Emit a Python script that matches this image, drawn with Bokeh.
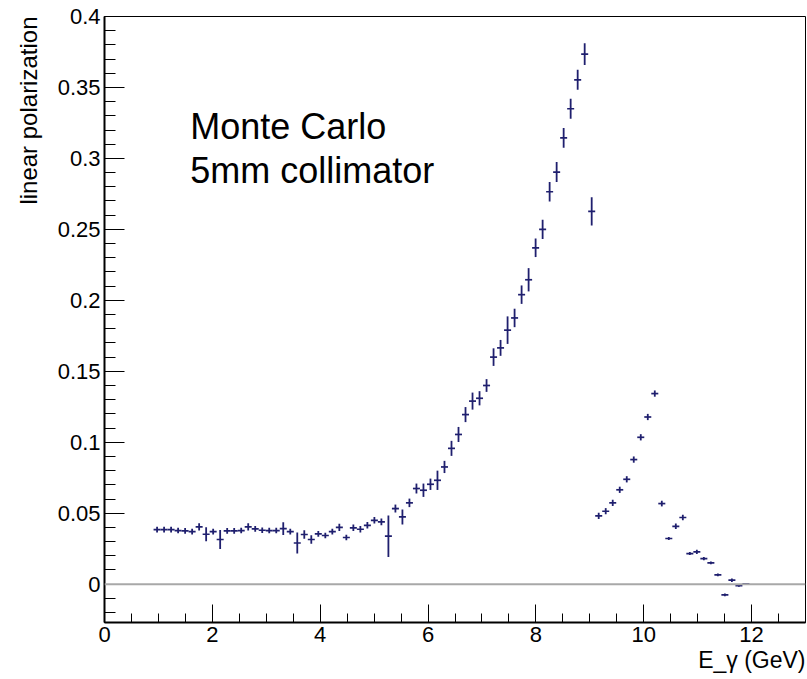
from bokeh.plotting import figure
from bokeh.models import FixedTicker, CustomJSTickFormatter, Label, Span, ColumnDataSource, Title
from bokeh.embed import file_html
from bokeh.resources import INLINE

# photon energy (bin centres, GeV)
energy = [0.975, 1.105, 1.235, 1.365, 1.495, 1.625, 1.755, 1.885, 2.015, 2.145,
          2.275, 2.405, 2.535, 2.665, 2.795, 2.925, 3.055, 3.185, 3.315, 3.445,
          3.575, 3.705, 3.835, 3.965, 4.095, 4.225, 4.355, 4.485, 4.615, 4.745,
          4.875, 5.005, 5.135, 5.265, 5.395, 5.525, 5.655, 5.785, 5.915, 6.045,
          6.175, 6.305, 6.435, 6.565, 6.695, 6.825, 6.955, 7.085, 7.215, 7.345,
          7.475, 7.605, 7.735, 7.865, 7.995, 8.125, 8.255, 8.385, 8.515, 8.645,
          8.775, 8.905, 9.035, 9.165, 9.295, 9.425, 9.555, 9.685, 9.815, 9.945,
          10.075, 10.205, 10.335, 10.465, 10.595, 10.725, 10.855, 10.985, 11.115, 11.245,
          11.375, 11.505, 11.635, 11.765, 11.895]
half_bin = 0.065

polarization = [0.0385, 0.0385, 0.0385, 0.0378, 0.0376, 0.0370, 0.0404, 0.0352, 0.0370, 0.0315,
                0.0376, 0.0376, 0.0378, 0.0404, 0.0390, 0.0380, 0.0378, 0.0378, 0.0392, 0.0370,
                0.0290, 0.0350, 0.0315, 0.0355, 0.0343, 0.0370, 0.0400, 0.0329, 0.0397, 0.0387,
                0.0415, 0.0450, 0.0439, 0.0338, 0.0533, 0.0474, 0.0573, 0.0674, 0.0662, 0.0704,
                0.0732, 0.0826, 0.0957, 0.1055, 0.1195, 0.1290, 0.1310, 0.1400, 0.1600, 0.1665,
                0.1790, 0.1876, 0.2040, 0.2145, 0.2370, 0.2500, 0.2765, 0.2904, 0.3145, 0.3350,
                0.3554, 0.3735, 0.2627, 0.0481, 0.0514, 0.0573, 0.0665, 0.0739, 0.0878, 0.1035,
                0.1178, 0.1343, 0.0568, 0.0322, 0.0408, 0.0470, 0.0216, 0.0228, 0.0180, 0.0150,
                0.0066, -0.0075, 0.0028, -0.0010, 0.0003]

error = [0.0020, 0.0020, 0.0020, 0.0020, 0.0020, 0.0020, 0.0025, 0.0050, 0.0020, 0.0067,
         0.0020, 0.0020, 0.0020, 0.0026, 0.0020, 0.0020, 0.0020, 0.0020, 0.0045, 0.0020,
         0.0074, 0.0030, 0.0030, 0.0020, 0.0020, 0.0020, 0.0025, 0.0020, 0.0023, 0.0023,
         0.0023, 0.0023, 0.0023, 0.0146, 0.0028, 0.0053, 0.0030, 0.0035, 0.0047, 0.0040,
         0.0068, 0.0043, 0.0053, 0.0053, 0.0053, 0.0060, 0.0050, 0.0045, 0.0062, 0.0056,
         0.0097, 0.0065, 0.0065, 0.0082, 0.0065, 0.0067, 0.0068, 0.0070, 0.0070, 0.0070,
         0.0070, 0.0076, 0.0100, 0.0022, 0.0022, 0.0022, 0.0022, 0.0022, 0.0022, 0.0022,
         0.0022, 0.0022, 0.0020, 0.0010, 0.0020, 0.0020, 0.0010, 0.0015, 0.0012, 0.0010,
         0.0010, 0.0010, 0.0012, 0.0008, 0.0005]

x_major = [0, 2, 4, 6, 8, 10, 12]
x_minor = [i * 0.5 for i in range(27)]
y_major = [0.0, 0.05, 0.1, 0.15, 0.2, 0.25, 0.3, 0.35, 0.4]
y_minor = [round(-0.02 + i * 0.01, 3) for i in range(43)]

x_title = "E_\u03b3 (GeV)"
y_title = "linear polarization"

FONT = "Liberation Sans"
NAVY = "#1f1f6e"

p = figure(width=807, height=679, x_range=(0, 13), y_range=(-0.027, 0.4),
           output_backend="svg", toolbar_location=None,
           min_border_left=104, min_border_right=2, min_border_top=16, min_border_bottom=57)
p.background_fill_color = "white"
p.border_fill_color = "white"
p.grid.visible = False
p.outline_line_color = "black"
p.outline_line_width = 1

xa = p.xaxis[0]
ya = p.yaxis[0]
for ax in (xa, ya):
    ax.axis_line_width = 2
    ax.axis_line_color = "black"
    ax.major_tick_line_color = "black"
    ax.minor_tick_line_color = "black"
    ax.major_tick_line_width = 1
    ax.minor_tick_line_width = 1
    ax.major_tick_out = 0
    ax.minor_tick_out = 0
    ax.major_label_text_font = FONT
    ax.major_label_text_font_size = "22px"
    ax.major_label_text_color = "black"

xa.ticker = FixedTicker(ticks=x_major, minor_ticks=x_minor)
ya.ticker = FixedTicker(ticks=y_major, minor_ticks=y_minor)
xa.major_tick_in = 18
xa.minor_tick_in = 9
ya.major_tick_in = 20
ya.minor_tick_in = 11
xa.major_label_standoff = 4
ya.major_label_standoff = 4
ya.formatter = CustomJSTickFormatter(code="return String(Math.round(tick*1000)/1000);")

p.add_layout(Title(text=x_title, align="right", text_font=FONT,
                   text_font_size="23px", text_font_style="normal",
                   text_color="black", standoff=0), "below")
p.add_layout(Title(text=y_title, align="right", vertical_align="top", text_font=FONT,
                   text_font_size="24px", text_font_style="normal",
                   text_color="black", standoff=22), "left")

# zero line
p.add_layout(Span(location=0, dimension="width", line_color="#a8a8a8", line_width=2))

src = ColumnDataSource(dict(
    x=energy, y=polarization,
    x0=[e - half_bin for e in energy], x1=[e + half_bin for e in energy],
    y0=[v - s for v, s in zip(polarization, error)],
    y1=[v + s for v, s in zip(polarization, error)],
))
p.segment(x0="x0", y0="y", x1="x1", y1="y", source=src, line_color=NAVY, line_width=1.7)
p.segment(x0="x", y0="y0", x1="x", y1="y1", source=src, line_color=NAVY, line_width=1.8)

# annotation text
p.add_layout(Label(x=1.59, y=0.3225, text="Monte Carlo", text_font=FONT,
                   text_font_size="36px", text_color="black", text_baseline="alphabetic"))
p.add_layout(Label(x=1.59, y=0.2915, text="5mm collimator", text_font=FONT,
                   text_font_size="36px", text_color="black", text_baseline="alphabetic"))

open("out.html", "w").write(file_html(p, INLINE))
